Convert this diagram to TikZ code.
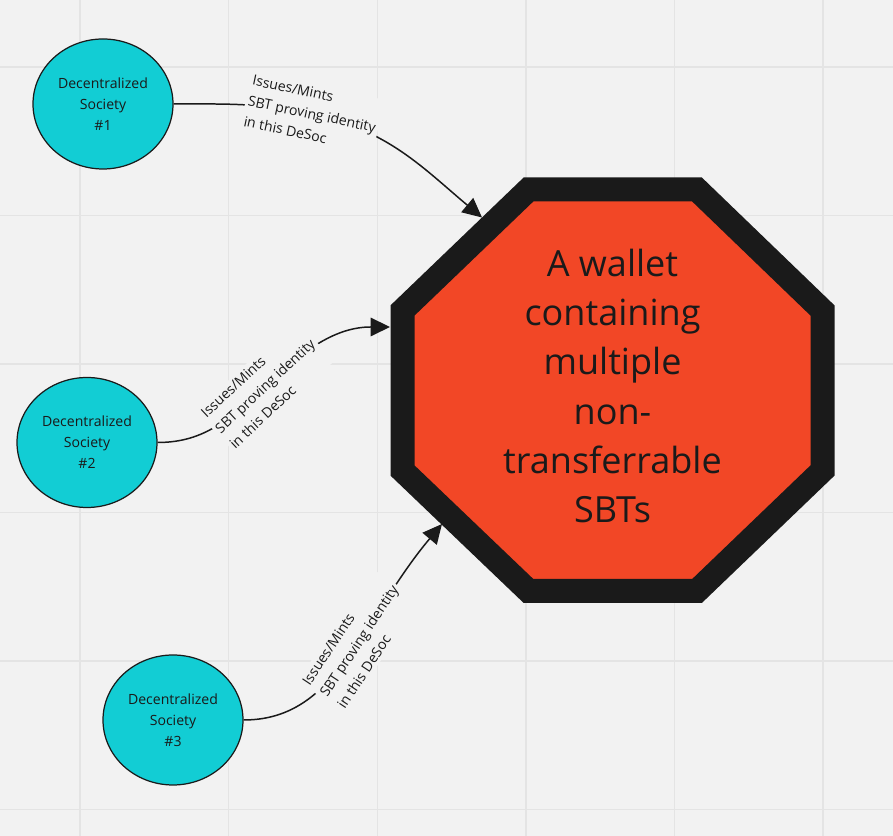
\documentclass[tikz,border=0pt]{standalone}
\usepackage{fontspec}
\setmainfont{Open Sans}
\usepackage{tikz}
\usetikzlibrary{arrows.meta,positioning,shapes.geometric}
\definecolor{boardC}{HTML}{F2F2F2}
\definecolor{gridC}{HTML}{E4E4E4}
\definecolor{desocC}{HTML}{12CDD4}
\definecolor{walletC}{HTML}{F24726}
\definecolor{inkC}{HTML}{1A1A1A}

\begin{document}
\begin{tikzpicture}[
  desoc/.style={ellipse,draw=inkC,line width=0.7pt,fill=desocC,text=inkC,
                minimum width=2.8cm,minimum height=2.6cm,inner sep=0pt,
                align=center,font=\fontsize{8}{12}\selectfont},
  lbl/.style={fill=boardC,text=inkC,align=left,inner sep=1.5pt,
              font=\fontsize{8}{12}\selectfont},
  arr/.style={-{Triangle[length=11pt,width=10.5pt]},line width=0.85pt,draw=inkC}
]
  \useasboundingbox (0,0) rectangle (17.86,16.72);
  \fill[boardC] (0,0) rectangle (17.86,16.72);

  % Board grid
  \foreach \gx in {1.6,4.574,7.546,10.52,13.49,16.46}
    \draw[gridC,line width=0.8pt] (\gx,0) -- (\gx,16.72);
  \foreach \gy in {0.53,3.5,6.47,9.44,12.41,15.38}
    \draw[gridC,line width=0.8pt] (0,\gy) -- (17.86,\gy);

  % Wallet octagon
  \draw[fill=walletC,draw=inkC,line width=13.66pt,line join=miter]
    (10.57,12.93) -- (13.94,12.93) -- (16.45,10.51) -- (16.45,7.31)
    -- (13.94,4.9) -- (10.57,4.9) -- (8.05,7.31) -- (8.05,10.51) -- cycle;
  \node[align=center,text=inkC,font=\fontsize{20.5}{27.9}\selectfont]
    (wallet) at (12.25,9.0)
    {A wallet\\containing\\multiple\\non-\\transferrable\\SBTs};
  \coordinate (tip1) at (9.64,12.37);
  \coordinate (tip2) at (7.8,10.18);
  \coordinate (tip3) at (8.84,6.24);

  % Societies
  \node[desoc] (soc1) at (2.06,14.64) {Decentralized\\Society\\\#1};
  \node[desoc] (soc2) at (1.74,7.87)  {Decentralized\\Society\\\#2};
  \node[desoc] (soc3) at (3.46,2.32)  {Decentralized\\Society\\\#3};

  % Label positions
  \coordinate (mid1) at (6.24,14.44);
  \coordinate (mid2) at (5.3,9.0);
  \coordinate (mid3) at (7.18,3.9);

  % Arrows
  \draw[arr] (soc1.east) to[out=0,in=168] (mid1) to[out=-12,in=140] (tip1);
  \draw[arr] (soc2.east) to[out=0,in=223] (mid2) to[out=43,in=180] (tip2);
  \draw[arr] (soc3.east) to[out=0,in=236.5] (mid3) to[out=56.5,in=230] (tip3);

  % Labels
  \node[lbl,rotate=-12] (lab1) at (mid1)
    {Issues/Mints\\SBT proving identity\\in this DeSoc};
  \node[lbl,rotate=43] (lab2) at (mid2)
    {Issues/Mints\\SBT proving identity\\in this DeSoc};
  \node[lbl,rotate=56.5] (lab3) at (mid3)
    {Issues/Mints\\SBT proving identity\\in this DeSoc};
\end{tikzpicture}
\end{document}
